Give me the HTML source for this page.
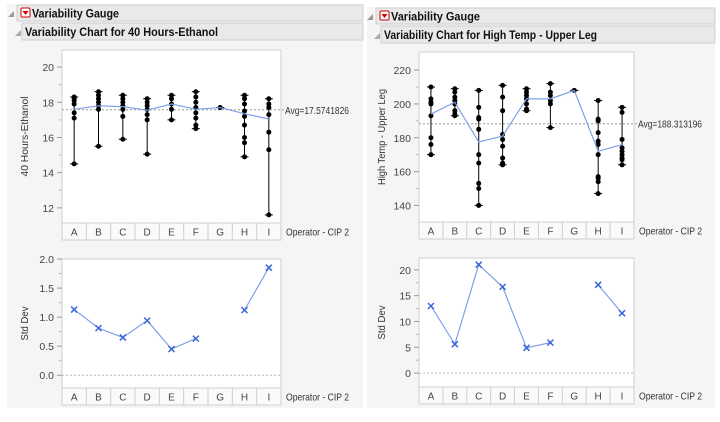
<!DOCTYPE html>
<html><head><meta charset="utf-8"><style>
body{margin:0;background:#fff;font-family:"Liberation Sans",sans-serif;}
svg{display:block}
</style></head><body>
<svg id="c" width="720" height="422" viewBox="0 0 720 422" xmlns="http://www.w3.org/2000/svg"></svg>
<script>
const categories=["A","B","C","D","E","F","G","H","I"];
const ethanolValues=[
 [18.3,18.2,18.1,17.9,17.4,17.1,14.5],
 [18.6,18.4,18.2,18.0,17.8,17.6,15.5],
 [18.4,18.2,18.0,17.8,17.6,17.2,15.9],
 [18.2,18.0,17.8,17.6,17.3,17.0,15.05],
 [18.4,18.2,17.9,17.6,17.0],
 [18.6,18.3,18.0,17.7,17.4,17.1,16.7,16.5],
 [17.7],
 [18.4,18.2,17.9,17.5,17.2,16.7,16.0,15.7,14.9],
 [18.2,17.9,17.7,17.3,16.3,15.3,11.6]];
const ethanolMeans=[17.6,17.8,17.75,17.55,17.9,17.6,17.7,17.35,17.05];
const ethanolAvg=17.5741826;
const ethanolStd=[1.13,0.81,0.65,0.94,0.45,0.63,null,1.12,1.85];
const ethanolTicks=[12,14,16,18,20];
const ethanolStdTicks=[0,0.5,1,1.5,2];
const ethanolStdTickLabels=["0.0","0.5","1.0","1.5","2.0"];
const tempValues=[
 [210,203,201,200,193,180,176,170],
 [209,207,204,202,200,196,194,193],
 [208,198,192,191,185,170,165,153,150,140],
 [211,204,196,182,179,175,168,165,164],
 [209,207,205,203,200,197,196],
 [212,207,205,202,200,186],
 [208],
 [202,191,190,183,178,176,170,157,156,154,147],
 [198,195,179,174,172,170,168,167,164]];
const tempMeans=[194,201,177.5,181,203,203,208,172,176];
const tempAvg=188.313196;
const tempStd=[13,5.6,21,16.7,4.9,5.9,null,17.1,11.6];
const tempTicks=[140,160,180,200,220];
const tempStdTicks=[0,5,10,15,20];
const tempStdTickLabels=["0","5","10","15","20"];

const NS="http://www.w3.org/2000/svg";
const svg=document.getElementById('c');
function mk(tag,attrs,parent,text){const e=document.createElementNS(NS,tag);for(const k in attrs)e.setAttribute(k,attrs[k]);if(text!==undefined)e.textContent=text;(parent||svg).appendChild(e);return e;}
const fit=(w)=>({textLength:w,lengthAdjust:'spacingAndGlyphs'});

function header(x,y,w,title,sub,tw,sw){
 let g=mk('g',{});
 
 
 mk('rect',{x:x,y:y,width:w,height:16,fill:'#e9e9e9',stroke:'#d0d0d0'},g);
 mk('path',{d:`M${x-9} ${y+12} l6 -6 v6 z`,fill:'#999'},g);
 mk('rect',{x:x+4,y:y+3,width:9,height:9,fill:'#fff',stroke:'#c00',rx:1},g);
 mk('path',{d:`M${x+5.5} ${y+6} h6 l-3 4 z`,fill:'#d00'},g);
 mk('text',Object.assign({x:x+15,y:y+12.5,'font-size':12,'font-weight':'bold',fill:'#111'},fit(tw)),g,title);
 let g2=mk('g',{});
 
 
 mk('rect',{x:x+5,y:y+18,width:w-5,height:17,fill:'#e9e9e9',stroke:'#d0d0d0'},g2);
 mk('path',{d:`M${x-2} ${y+31} l6 -6 v6 z`,fill:'#aaa'},g2);
 mk('text',Object.assign({x:x+8,y:y+31,'font-size':12,'font-weight':'bold',fill:'#111'},fit(sw)),g2,sub);
}

function axisFrame(x0,x1,y0,y1,ymin,ymax,ticks,labels,ytitle,catTop,ytw){
 const sy=v=>y1-(v-ymin)/(ymax-ymin)*(y1-y0);
 const cw=(x1-x0)/categories.length;
 const sx=i=>x0+cw*(i+0.5);
 let f=mk('rect',{x:x0,y:y0,width:x1-x0,height:y1-y0,fill:'#fff',stroke:'#cfcfcf'});
 
 let ga=mk('g',{});
 ticks.forEach((t,i)=>{const y=sy(t);mk('line',{x1:x0-5,x2:x0,y1:y,y2:y,stroke:'#999'},ga);
  if(i<ticks.length-1){const ym=sy((t+ticks[i+1])/2);mk('line',{x1:x0-3,x2:x0,y1:ym,y2:ym,stroke:'#bbb'},ga);}
  mk('text',{x:x0-8,y:y+4,'font-size':10.5,'text-anchor':'end',fill:'#444'},ga,labels[i]);});
 const tx=x0-34,ty=(y0+y1)/2;
 let tt=mk('text',Object.assign({x:tx,y:ty,'font-size':10,'text-anchor':'middle',fill:'#333',transform:`rotate(-90 ${tx} ${ty})`},fit(ytw)),svg,ytitle);
 
 let gc=mk('g',{});
 mk('rect',{x:x0,y:catTop,width:x1-x0,height:17,fill:'#fafafa',stroke:'#cfcfcf'},gc);
 categories.forEach((c,i)=>{if(i>0)mk('line',{x1:x0+cw*i,x2:x0+cw*i,y1:catTop,y2:catTop+17,stroke:'#cfcfcf'},gc);
  mk('text',{x:sx(i),y:catTop+12.5,'font-size':10,'text-anchor':'middle',fill:'#444'},gc,c);});
 let xl=mk('text',Object.assign({x:x1+5,y:catTop+12.5,'font-size':10.5,fill:'#333'},fit(63)),svg,'Operator - CIP 2');
 
 return {sx,sy};
}

function varChart(x0,x1,y0,y1,ymin,ymax,ticks,vals,means,avg,ytitle,avgLabel,ytw){
 const {sx,sy}=axisFrame(x0,x1,y0,y1,ymin,ymax,ticks,ticks.map(String),ytitle,y1,ytw);
 const ya=sy(avg);
 let al=mk('line',{x1:x0,x2:x1+4,y1:ya,y2:ya,stroke:'#999','stroke-dasharray':'2,2'});
 
 let at=mk('text',Object.assign({x:x1+4,y:ya+4,'font-size':10.5,fill:'#333'},fit(64)),svg,avgLabel);
 
 vals.forEach((arr,i)=>{
  let g=mk('g',{});
  const mx=Math.max(...arr),mn=Math.min(...arr),x=sx(i);
  mk('line',{x1:x,x2:x,y1:sy(mx),y2:sy(mn),stroke:'#000','stroke-width':1},g);
  [mx,mn].forEach(v=>mk('line',{x1:x-4,x2:x+4,y1:sy(v),y2:sy(v),stroke:'#000'},g));
  arr.forEach(v=>{mk('circle',{cx:x,cy:sy(v),r:2.5,fill:'#000'},g);});
 });
 let p=means.map((m,i)=>`${i?'L':'M'}${sx(i)} ${sy(m)}`).join(' ');
 let ml=mk('path',{d:p,fill:'none',stroke:'#7fa0e8','stroke-width':1.2});
 
}

function stdChart(x0,x1,y0,y1,ymin,ymax,ticks,labels,std,catTop){
 const {sx,sy}=axisFrame(x0,x1,y0,y1,ymin,ymax,ticks,labels,'Std Dev',catTop,34);
 const y=sy(0);
 mk('line',{x1:x0,x2:x1,y1:y,y2:y,stroke:'#bbb','stroke-dasharray':'2,2'});
 let d='',pen=false;
 std.forEach((v,i)=>{if(v===null){pen=false;return;}d+=(pen?'L':'M')+sx(i)+' '+sy(v)+' ';pen=true;});
 let l=mk('path',{d:d,fill:'none',stroke:'#7fa0e8','stroke-width':1.2});
 
 std.forEach((v,i)=>{if(v===null)return;const cx=sx(i),cy=sy(v);
  let g=mk('g',{stroke:'#3a66d8','stroke-width':1.5});
  
  mk('line',{x1:cx-3,y1:cy-3,x2:cx+3,y2:cy+3},g);mk('line',{x1:cx-3,y1:cy+3,x2:cx+3,y2:cy-3},g);});
}

let p1=mk('rect',{x:7,y:4,width:356,height:404,fill:'#f5f5f5'});

let p2=mk('rect',{x:367,y:7,width:348,height:401,fill:'#f5f5f5'});

header(17,5,346,'Variability Gauge','Variability Chart for 40 Hours-Ethanol',87,193);
header(376,8,339,'Variability Gauge','Variability Chart for High Temp - Upper Leg',89,213);

varChart(62,281,50,223,11.14,20.97,ethanolTicks,ethanolValues,ethanolMeans,ethanolAvg,'40 Hours-Ethanol','Avg=17.5741826',80);
stdChart(62,281,259,388,-0.22,2.0,ethanolStdTicks,ethanolStdTickLabels,ethanolStd,388);

varChart(419,634,52,222,130.2,230.7,tempTicks,tempValues,tempMeans,tempAvg,'High Temp - Upper Leg','Avg=188.313196',96);
stdChart(419,634,258,387,-2.7,22.3,tempStdTicks,tempStdTickLabels,tempStd,387);
</script>
</body></html>
